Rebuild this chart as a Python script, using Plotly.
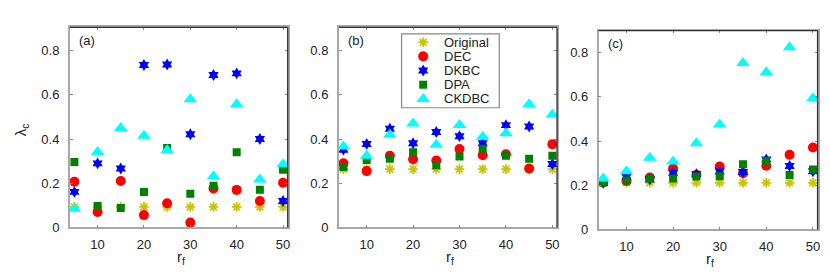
import plotly.graph_objects as go

W, H = 830, 277

rf = [5, 10, 15, 20, 25, 30, 35, 40, 45, 50]
series_names = ["Original", "DEC", "DKBC", "DPA", "CKDBC"]

# Panel (a)
a_original = [0.093] * 10
a_dec = [0.207, 0.070, 0.210, 0.056, 0.110, 0.022, 0.176, 0.170, 0.120, 0.202]
a_dkbc = [0.161, 0.290, 0.267, 0.735, 0.737, 0.422, 0.690, 0.697, 0.400, 0.120]
a_dpa = [0.296, 0.097, 0.088, 0.160, 0.359, 0.152, 0.189, 0.340, 0.171, 0.261]
a_ckdbc = [0.085, 0.341, 0.450, 0.415, 0.349, 0.580, 0.232, 0.557, 0.217, 0.286]

# Panel (b)
b_original = [0.264] * 10
b_dec = [0.290, 0.255, 0.324, 0.309, 0.303, 0.355, 0.327, 0.331, 0.267, 0.377]
b_dkbc = [0.352, 0.378, 0.447, 0.381, 0.432, 0.413, 0.381, 0.463, 0.457, 0.287]
b_dpa = [0.273, 0.305, 0.311, 0.340, 0.281, 0.321, 0.356, 0.325, 0.311, 0.325]
b_ckdbc = [0.366, 0.324, 0.419, 0.470, 0.374, 0.464, 0.410, 0.426, 0.557, 0.511]

# Panel (c)
c_original = [0.211] * 10
c_dec = [0.212, 0.219, 0.235, 0.276, 0.247, 0.285, 0.254, 0.288, 0.338, 0.371]
c_dkbc = [0.211, 0.238, 0.227, 0.256, 0.250, 0.262, 0.260, 0.317, 0.287, 0.263]
c_dpa = [0.212, 0.222, 0.230, 0.230, 0.240, 0.241, 0.295, 0.310, 0.246, 0.271]
c_ckdbc = [0.231, 0.263, 0.325, 0.307, 0.390, 0.475, 0.753, 0.712, 0.825, 0.594]

panel_labels = ["(a)", "(b)", "(c)"]
xticks = [10, 20, 30, 40, 50]
yticks = [0, 0.2, 0.4, 0.6, 0.8]
ytick_text = ["0", "0.2", "0.4", "0.6", "0.8"]

panels = [
    [a_original, a_dec, a_dkbc, a_dpa, a_ckdbc],
    [b_original, b_dec, b_dkbc, b_dpa, b_ckdbc],
    [c_original, c_dec, c_dkbc, c_dpa, c_ckdbc],
]

styles = [
    dict(symbol="asterisk-open", size=8, color="#c8c400", line=dict(color="#c8c400", width=1.8)),
    dict(symbol="circle", size=10, color="#ff0000", line=dict(width=0)),
    dict(symbol="hexagram", size=9, color="#0000ff", line=dict(width=0)),
    dict(symbol="square", size=8, color="#008000", line=dict(width=0)),
    dict(symbol="triangle-up", size=12, color="#00ffff", line=dict(width=0)),
]

# pixel geometry of each plot area: (left, right, top, bottom)
boxes = [(62, 280.7, 20, 226), (332, 551, 20, 226), (592.7, 812.5, 23.3, 228)]
yranges = [[0, 0.905], [0, 0.905], [0, 0.9]]

FONT = "Liberation Sans, Arial, Helvetica, sans-serif"
TXT = "#222222"

fig = go.Figure()
layout = dict(
    width=W, height=H,
    margin=dict(l=0, r=0, t=0, b=0),
    paper_bgcolor="white", plot_bgcolor="white",
    font=dict(family=FONT, size=13, color=TXT),
    showlegend=False,
)

shapes = []
annotations = []
for i, (vals, box, yr) in enumerate(zip(panels, boxes, yranges)):
    xn = "x" if i == 0 else f"x{i+1}"
    yn = "y" if i == 0 else f"y{i+1}"
    for name, v, st in zip(series_names, vals, styles):
        fig.add_trace(go.Scatter(
            x=rf, y=v, mode="markers", name=name,
            marker=st, xaxis=xn, yaxis=yn,
        ))
    l, r, t, b = box
    axk = "xaxis" if i == 0 else f"xaxis{i+1}"
    ayk = "yaxis" if i == 0 else f"yaxis{i+1}"
    common = dict(showline=True, linecolor="#a8a8a8", linewidth=1.5, mirror="ticks",
                  ticks="inside", ticklen=3, tickwidth=1, tickcolor="#888888",
                  showgrid=False, zeroline=False,
                  tickfont=dict(family=FONT, size=13, color=TXT))
    layout[axk] = dict(domain=[l / W, r / W], range=[4, 51], tickvals=xticks,
                       anchor=yn, ticklabelstandoff=4, **common)
    layout[ayk] = dict(domain=[(H - b) / H, (H - t) / H], range=yr, tickvals=yticks,
                       ticktext=ytick_text, anchor=xn, ticklabelstandoff=6, **common)
    # dark top and right box lines
    shapes.append(dict(type="line", xref=f"{xn} domain", yref=f"{yn} domain",
                       x0=0, x1=1, y0=1, y1=1, line=dict(color="#333333", width=1.3)))
    shapes.append(dict(type="line", xref=f"{xn} domain", yref=f"{yn} domain",
                       x0=1, x1=1, y0=0, y1=1, line=dict(color="#333333", width=1.3)))
    # panel label
    annotations.append(dict(text=panel_labels[i], xref="paper", yref="paper",
                            x=(l + 7) / W, y=(H - (t + 13)) / H, xanchor="left", yanchor="middle",
                            showarrow=False, font=dict(family=FONT, size=13, color=TXT)))
    # x-axis title
    annotations.append(dict(text="r<sub>f</sub>", xref="paper", yref="paper",
                            x=(l + r) / 2 / W + 2 / W, y=(H - (b + 31)) / H,
                            xanchor="center", yanchor="middle", showarrow=False,
                            font=dict(family=FONT, size=15, color=TXT)))

# y-axis title
annotations.append(dict(text="λ<sub>c</sub>", xref="paper", yref="paper",
                        x=13 / W, y=(H - 125) / H, xanchor="center", yanchor="middle",
                        textangle=-90, showarrow=False,
                        font=dict(family=FONT, size=15, color=TXT)))

# ---- custom legend (compact rows as in the reference) drawn on a hidden axis pair ----
LG_L, LG_R, LG_T, LG_B = 395, 493, 26.7, 102.7
ROW0, ROWSTEP = 8.5, 14.6
layout["xaxis4"] = dict(domain=[LG_L / W, LG_R / W], range=[0, LG_R - LG_L], visible=False,
                        fixedrange=True, anchor="y4")
layout["yaxis4"] = dict(domain=[(H - LG_B) / H, (H - LG_T) / H], range=[LG_B - LG_T, 0],
                        visible=False, fixedrange=True, anchor="x4")
shapes.append(dict(type="rect", xref="paper", yref="paper",
                   x0=LG_L / W, x1=LG_R / W, y0=(H - LG_B) / H, y1=(H - LG_T) / H,
                   line=dict(color="#888888", width=1.2), fillcolor="rgba(0,0,0,0)",
                   layer="above"))
for k, (name, st) in enumerate(zip(series_names, styles)):
    fig.add_trace(go.Scatter(x=[21.7], y=[ROW0 + ROWSTEP * k], mode="markers", marker=st,
                             xaxis="x4", yaxis="y4", hoverinfo="skip", cliponaxis=False))
    annotations.append(dict(text=name, xref="x4", yref="y4", x=41, y=ROW0 + ROWSTEP * k,
                            xanchor="left", yanchor="middle", showarrow=False,
                            font=dict(family=FONT, size=13, color=TXT)))

layout["shapes"] = shapes
layout["annotations"] = annotations
fig.update_layout(**layout)

fig.write_html("out.html")
